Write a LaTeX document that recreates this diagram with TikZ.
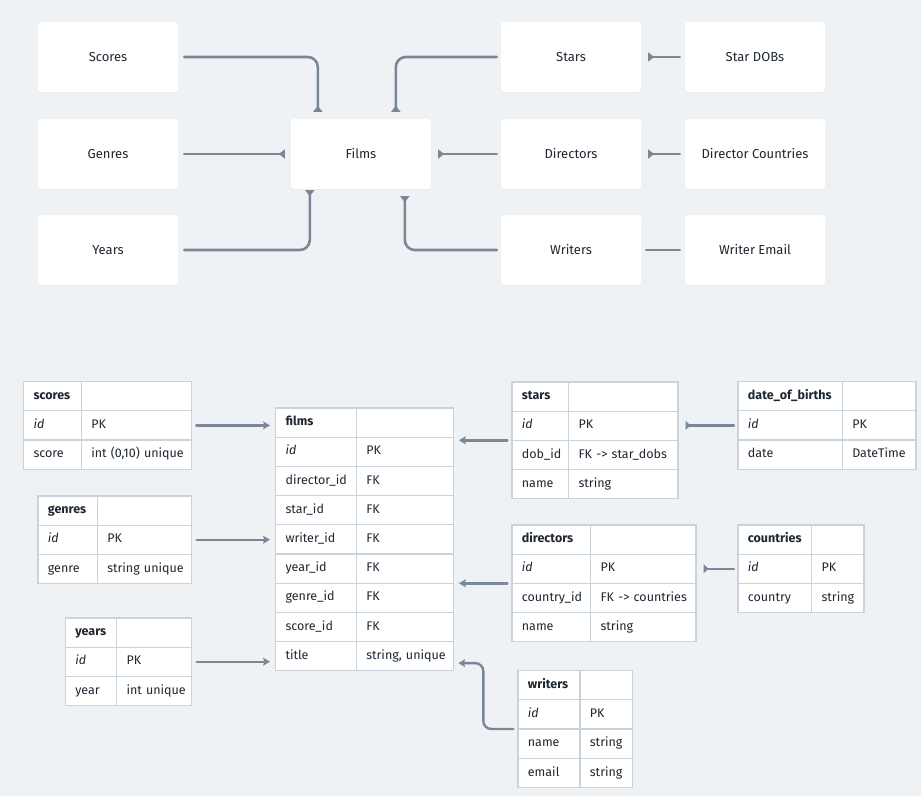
\documentclass[tikz,border=0pt]{standalone}
\usepackage{fontspec}
\setmainfont{Fira Sans}
\usetikzlibrary{arrows.meta,matrix,shadows}
\definecolor{bg}{HTML}{EFF2F5}
\definecolor{ink}{HTML}{1F2731}
\definecolor{wire}{HTML}{7A8796}
\definecolor{gridc}{HTML}{CAD3DC}
\begin{document}
\begin{tikzpicture}[x=1pt,y=-1pt,
  font=\fontsize{13}{15}\selectfont, text=ink,
  box/.style={fill=white, rounded corners=3pt, minimum width=140pt, minimum height=70pt,
    drop shadow={shadow xshift=0pt, shadow yshift=-1pt, opacity=0.05}},
  conn/.style={draw=wire, line width=2.6pt, line cap=round, rounded corners=10pt,
    -{Triangle[reversed,length=6pt,width=9pt]}},
  plainconn/.style={draw=wire, line width=2.6pt, line cap=round},
  fk/.style={draw=wire, line width=2.4pt, line cap=round, rounded corners=8pt,
    -{Stealth[length=7pt,width=8pt,inset=1.5pt]}},
  rev/.style={draw=wire, line width=2.4pt, line cap=round,
    -{Triangle[reversed,length=5pt,width=9pt]}},
  dbtable/.style={matrix of nodes, nodes in empty cells, anchor=north west,
    inner sep=0pt, outer sep=0pt, row sep=-1.2pt, column sep=-1.2pt,
    nodes={draw=gridc, line width=1.2pt, fill=white, minimum height=29.2pt,
      text height=9.5pt, text depth=3pt, inner xsep=10pt, align=left,
      font=\fontsize{12.5}{14}\selectfont,
      execute at begin node={\hbox\bgroup}, execute at end node={\egroup}}},
  ca/.style={column 1/.style={nodes={text width=#1}}},
  cb/.style={column 2/.style={nodes={text width=#1}}},
]
\fill[bg] (0,0) rectangle (921,796);
\useasboundingbox (0,0) rectangle (921,796);

% ---------- top overview ----------
\node[box] (scores) at (108,57) {Scores};
\node[box] (genres) at (108,154) {Genres};
\node[box] (years) at (108,250) {Years};
\node[box] (films) at (361,154) {Films};
\node[box] (stars) at (571,57) {Stars};
\node[box] (directors) at (571,154) {Directors};
\node[box] (writers) at (571,250) {Writers};
\node[box] (stardobs) at (755,57) {Star DOBs};
\node[box] (dircountries) at (755,154) {Director Countries};
\node[box] (writeremail) at (755,250) {Writer Email};

\draw[conn] ([xshift=6pt]scores.east) -| ([xshift=27pt,yshift=7pt]films.north west);
\draw[conn] ([xshift=-4pt]stars.west) -| ([xshift=105pt,yshift=7pt]films.north west);
\draw[conn] ([xshift=6pt]genres.east) -- ([xshift=-6pt]films.west);
\draw[conn] ([xshift=-4pt]directors.west) -- ([xshift=7pt]films.east);
\draw[conn] ([xshift=6pt]years.east) -| ([xshift=19pt,yshift=-1pt]films.south west);
\draw[conn] ([xshift=-4pt]writers.west) -| ([xshift=114pt,yshift=-7pt]films.south west);
\draw[conn] ([xshift=-5pt]stardobs.west) -- ([xshift=7pt]stars.east);
\draw[conn] ([xshift=-5pt]dircountries.west) -- ([xshift=7pt]directors.east);
\draw[plainconn] ([xshift=-5pt]writeremail.west) -- ([xshift=5pt]writers.east);

% ---------- tables ----------
\matrix (tscores) [dbtable, ca=37.7pt, cb=90pt] at (23,381) {
\textbf{scores} & \\
\textit{id} & PK \\
score & int (0,10) unique \\
};
\matrix (tgenres) [dbtable, ca=39.4pt, cb=74.3pt] at (37.3,495.3) {
\textbf{genres} & \\
\textit{id} & PK \\
genre & string unique \\
};
\matrix (tyears) [dbtable, ca=31.3pt, cb=55pt] at (64.7,617.3) {
\textbf{years} & \\
\textit{id} & PK \\
year & int unique \\
};
\matrix (tfilms) [dbtable, ca=60.7pt, cb=77pt] at (275,407.3) {
\textbf{films} & \\
\textit{id} & PK \\
director\_id & FK \\
star\_id & FK \\
writer\_id & FK \\
year\_id & FK \\
genre\_id & FK \\
score\_id & FK \\
title & string, unique \\
};
\matrix (tstars) [dbtable, ca=36.7pt, cb=89.3pt] at (511.3,381.3) {
\textbf{stars} & \\
\textit{id} & PK \\
dob\_id & FK -> star\_dobs \\
name & string \\
};
\matrix (tdob) [dbtable, ca=84.4pt, cb=53.6pt] at (737.3,381) {
\textbf{date\_of\_births} & \\
\textit{id} & PK \\
date & DateTime \\
};
\matrix (tdirectors) [dbtable, ca=58.7pt, cb=85.3pt] at (511.3,524.3) {
\textbf{directors} & \\
\textit{id} & PK \\
country\_id & FK -> countries \\
name & string \\
};
\matrix (tcountries) [dbtable, ca=53.7pt, cb=32.3pt] at (737.3,524.3) {
\textbf{countries} & \\
\textit{id} & PK \\
country & string \\
};
\matrix (twriters) [dbtable, ca=42pt, cb=32.4pt] at (517.3,670) {
\textbf{writers} & \\
\textit{id} & PK \\
name & string \\
email & string \\
};

\draw[fk] ([xshift=5pt]tscores-2-2.east) -- ([xshift=-5pt]tfilms.west |- tscores-2-2.east);
\draw[fk] ([xshift=5pt]tgenres-2-2.east) -- ([xshift=-5pt]tfilms.west |- tgenres-2-2.east);
\draw[fk] ([xshift=5pt]tyears-2-2.east) -- ([xshift=-5pt]tfilms.west |- tyears-2-2.east);
\draw[fk] ([xshift=-4pt]tstars.west) -- ([xshift=5pt]tfilms.east |- tstars.west);
\draw[fk] ([xshift=-4pt]tdirectors.west) -- ([xshift=5pt]tfilms.east |- tdirectors.west);
\draw[fk] ([xshift=-4pt]twriters.west) -- ++(-30,0) |- ([xshift=5pt,yshift=-7pt]tfilms-9-2.east);
\draw[rev] ([xshift=-4pt]tdob-2-1.west) -- ([xshift=7pt]tstars.east |- tdob-2-1.west);
\draw[rev] ([xshift=-4pt]tcountries-2-1.west) -- ([xshift=7pt]tdirectors.east |- tcountries-2-1.west);
\end{tikzpicture}
\end{document}
